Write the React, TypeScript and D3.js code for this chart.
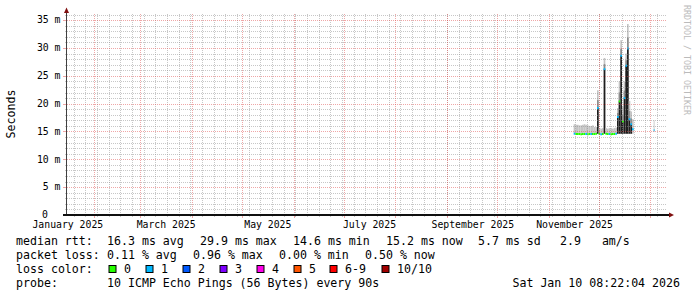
import React from "react";
import * as d3 from "d3";

// ---------- data ----------
const dayDates = [
  "2025-11-16", "2025-11-17", "2025-11-18", "2025-11-19", "2025-11-20", "2025-11-21",
  "2025-11-22", "2025-11-23", "2025-11-24", "2025-11-25", "2025-11-26", "2025-11-27",
  "2025-11-28", "2025-11-29", "2025-11-30", "2025-12-01", "2025-12-02", "2025-12-03",
  "2025-12-04", "2025-12-05", "2025-12-06", "2025-12-07", "2025-12-08", "2025-12-09",
  "2025-12-10", "2025-12-11", "2025-12-12", "2025-12-13", "2025-12-14", "2025-12-15",
  "2025-12-16", "2025-12-17", "2025-12-18", "2025-12-19", "2025-12-20", "2025-12-21",
  "2026-01-03",
];
const stepHours = [
  24, 24, 24, 24, 24, 24, 24, 24, 24, 24, 24, 24, 24, 24, 24, 24, 24, 24, 24,
  24, 24, 24, 24, 24, 24, 24, 24, 24, 24, 24, 24, 24, 24, 24, 24, 24, 12,
];
// median rtt (ms)
const median = [
  14.6, 14.55, 14.55, 14.55, 14.5, 14.55, 14.55, 14.55, 14.5, 14.55, 14.55, 14.55,
  14.55, 14.6, 19.2, 14.55, 14.5, 14.55, 26.2, 14.6, 14.55, 14.55, 14.5, 14.55,
  14.55, 14.6, 17.6, 20.4, 28.6, 16.8, 21.0, 26.8, 29.9, 17.2, 16.3, 15.4,
  15.2,
];
// smoke lower / upper edge (ms)
const smokeLo = [
  14.7, 14.7, 14.7, 14.7, 14.7, 14.7, 14.7, 14.7, 14.7, 14.7, 14.7, 14.7,
  14.7, 14.7, 14.6, 14.7, 14.7, 14.7, 14.6, 14.7, 14.7, 14.7, 14.7, 14.7,
  14.7, 14.7, 14.6, 14.6, 14.6, 14.6, 14.6, 14.6, 14.6, 14.6, 14.6, 14.6,
  14.9,
];
const smokeHi = [
  16.3, 16.2, 16.2, 16.1, 16.1, 16.2, 16.3, 16.2, 16.1, 16.0, 16.0, 16.1,
  15.8, 15.8, 22.4, 15.6, 15.5, 15.6, 28.2, 15.6, 15.5, 15.6, 15.6, 15.5,
  15.6, 15.7, 19.2, 24.0, 31.4, 19.5, 24.0, 29.0, 34.3, 20.5, 18.6, 17.2,
  17.0,
];
// lost pings out of 10
const loss = [
  1, 0, 0, 0, 0, 0, 0, 1, 0, 0, 1, 0, 0, 0, 1, 0, 1, 0, 1, 0, 0, 1, 0, 0,
  0, 1, 1, 0, 1, 0, 1, 1, 1, 1, 1, 1, 1,
];

const lossColors = ["#26ff00", "#00b8ff", "#0059ff", "#7e00ff", "#ff00ea", "#ff5500", "#ff0000", "#a10000"];
const lossLabels = ["0", "1", "2", "3", "4", "5", "6-9", "10/10"];

const yMajorTicks = [0, 5, 10, 15, 20, 25, 30, 35];
const yMajorLabels = ["0", "5 m", "10 m", "15 m", "20 m", "25 m", "30 m", "35 m"];

const xLabelMonths = ["2025-01-01", "2025-03-01", "2025-05-01", "2025-07-01", "2025-09-01", "2025-11-01"];
const xLabelTexts = ["January 2025", "March 2025", "May 2025", "July 2025", "September 2025", "November 2025"];

const legendRtt = [
  [16, "median rtt:"], [107, "16.3 ms avg"], [200, "29.9 ms max"], [293, "14.6 ms min"],
  [386, "15.2 ms now"], [478, "5.7 ms sd"], [560, "2.9\u00a0\u00a0\u00a0am/s"],
];
const legendLoss = [
  [16, "packet loss:"], [107, "0.11 % avg"], [193, "0.96 % max"], [279, "0.00 % min"], [365, "0.50 % now"],
];
const lossBoxX = [109, 146, 183, 220, 257, 294, 330, 382];
const probeText = "10 ICMP Echo Pings (56 Bytes) every 90s";
const dateText = "Sat Jan 10 08:22:04 2026";

// ---------- layout ----------
const W = 697, H = 297;
const X0 = 67, X1 = 667, Y0 = 215, Y1 = 14;
const START = new Date(Date.UTC(2025, 0, 16));
const END = new Date(Date.UTC(2026, 0, 11));
const MONO = "'DejaVu Sans Mono', monospace";
const GRID = "rgba(144,144,144,0.5)";
const MGRID = "rgba(224,80,80,0.5)";

export default function App() {
  const x = d3.scaleUtc().domain([START, END]).range([X0, X1]);
  const y = d3.scaleLinear().domain([0, 36.1]).range([Y0, Y1]);

  const minorY = d3.range(1, 37).filter((v) => v % 5 !== 0 && y(v) >= Y1);
  const majorX = d3.utcMonth.range(START, END);
  const minorX = d3.utcMonday.range(START, END);

  const rows = dayDates.map((s, i) => {
    const t0 = new Date(s + "T00:00:00Z");
    const t1 = new Date(t0.getTime() + stepHours[i] * 3600e3);
    return { x0: x(t0), x1: x(t1), i };
  });

  return (
    <svg width={W} height={H} style={{ position: "absolute", left: 0, top: 0, background: "#fff" }}
      fontFamily={MONO}>
      <rect width={W} height={H} fill="#fff" />

      {/* smoke */}
      {rows.map(({ x0, x1, i }) => {
        const spike = median[i] - smokeLo[i] > 1;
        const midTop = median[i] + (smokeHi[i] - median[i]) * 0.45;
        return (
          <g key={"s" + i}>
            <rect x={x0} width={x1 - x0} y={y(smokeHi[i])} height={y(smokeLo[i]) - y(smokeHi[i])} fill="#c4c4c4" />
            {spike && (
              <>
                <rect x={x0} width={x1 - x0} y={y(midTop)} height={y(median[i]) - y(midTop)} fill="#8c8c8c" />
                <rect x={x0} width={x1 - x0} y={y(median[i])} height={y(smokeLo[i]) - y(median[i])} fill="#1e1e1e" />
              </>
            )}
          </g>
        );
      })}
      {/* median line coloured by loss */}
      {rows.map(({ x0, x1, i }) => (
        <line key={"m" + i} x1={x0} x2={x1} y1={y(median[i])} y2={y(median[i])}
          stroke={lossColors[Math.min(loss[i], 7)]} strokeWidth={2} />
      ))}

      {/* grid */}
      {minorY.map((v) => (
        <g key={"gy" + v}>
          <line x1={X0} x2={X1} y1={Math.round(y(v)) + 0.5} y2={Math.round(y(v)) + 0.5} stroke={GRID} strokeDasharray="1,1" />
          <line x1={X0 - 2} x2={X0} y1={Math.round(y(v)) + 0.5} y2={Math.round(y(v)) + 0.5} stroke={GRID} />
        </g>
      ))}
      {minorX.map((d) => (
        <g key={"gx" + d.getTime()}>
          <line x1={Math.round(x(d)) + 0.5} x2={Math.round(x(d)) + 0.5} y1={Y1} y2={Y0} stroke={GRID} strokeDasharray="1,1" />
          <line x1={Math.round(x(d)) + 0.5} x2={Math.round(x(d)) + 0.5} y1={Y0} y2={Y0 + 2} stroke={GRID} />
        </g>
      ))}
      {yMajorTicks.filter((v) => v > 0).map((v) => (
        <g key={"My" + v}>
          <line x1={X0} x2={X1} y1={Math.round(y(v)) + 0.5} y2={Math.round(y(v)) + 0.5} stroke={MGRID} strokeDasharray="1,1" />
          <line x1={X0 - 4} x2={X0} y1={Math.round(y(v)) + 0.5} y2={Math.round(y(v)) + 0.5} stroke={MGRID} />
        </g>
      ))}
      {majorX.map((d) => (
        <g key={"Mx" + d.getTime()}>
          <line x1={Math.round(x(d)) + 0.5} x2={Math.round(x(d)) + 0.5} y1={Y1} y2={Y0} stroke={MGRID} strokeDasharray="1,1" />
          <line x1={Math.round(x(d)) + 0.5} x2={Math.round(x(d)) + 0.5} y1={Y0} y2={Y0 + 3} stroke={MGRID} />
        </g>
      ))}

      {/* axes */}
      <line x1={X0 - 0.5} x2={X0 - 0.5} y1={Y0} y2={10} stroke="#404040" strokeWidth={1} />
      <polygon points={`${X0 - 3},13 ${X0 - 0.5},7.5 ${X0 + 2},13`} fill="#801010" />
      <line x1={X0 - 4} x2={X1 + 2} y1={Y0} y2={Y0} stroke="#101010" strokeWidth={2} />
      <polygon points={`${X1 + 2},212.5 ${X1 + 7},215 ${X1 + 2},217.5`} fill="#801010" />

      {/* y labels */}
      {yMajorTicks.map((v, k) => (
        <text key={"yl" + v} x={v === 0 ? 48 : 60.5} y={y(v) + 3.2} fontSize={9.8} textAnchor="end" fill="#000">
          {yMajorLabels[k]}
        </text>
      ))}
      {/* x labels */}
      {xLabelMonths.map((m, k) => {
        const t = new Date(new Date(m + "T00:00:00Z").getTime() + 15.5 * 86400e3);
        return (
          <text key={"xl" + m} x={x(t)} y={227.8} fontSize={9.8} textAnchor="middle" fill="#000">
            {xLabelTexts[k]}
          </text>
        );
      })}

      <text transform="translate(15,114) rotate(-90)" fontSize={11.6} textAnchor="middle" fill="#000">Seconds</text>
      <text transform="translate(684,5) rotate(90)" fontSize={8.3} fill="#bbbbbb">RRDTOOL / TOBI OETIKER</text>

      {/* legend */}
      <g fontSize={11.6} fill="#000">
        {legendRtt.map(([px, s]) => (
          <text key={"r" + px} x={px as number} y={245}>{s}</text>
        ))}
        {legendLoss.map(([px, s]) => (
          <text key={"l" + px} x={px as number} y={259}>{s}</text>
        ))}
        <text x={16} y={273}>loss color:</text>
        {lossLabels.map((lab, k) => (
          <g key={"lc" + k}>
            <rect x={lossBoxX[k]} y={265.5} width={7} height={7} fill={lossColors[k]} stroke="#000" strokeWidth={1} />
            <text x={lossBoxX[k] + 15} y={273}>{lab}</text>
          </g>
        ))}
        <text x={16} y={287}>probe:</text>
        <text x={107} y={287}>{probeText}</text>
        <text x={680} y={287} textAnchor="end">{dateText}</text>
      </g>
    </svg>
  );
}
